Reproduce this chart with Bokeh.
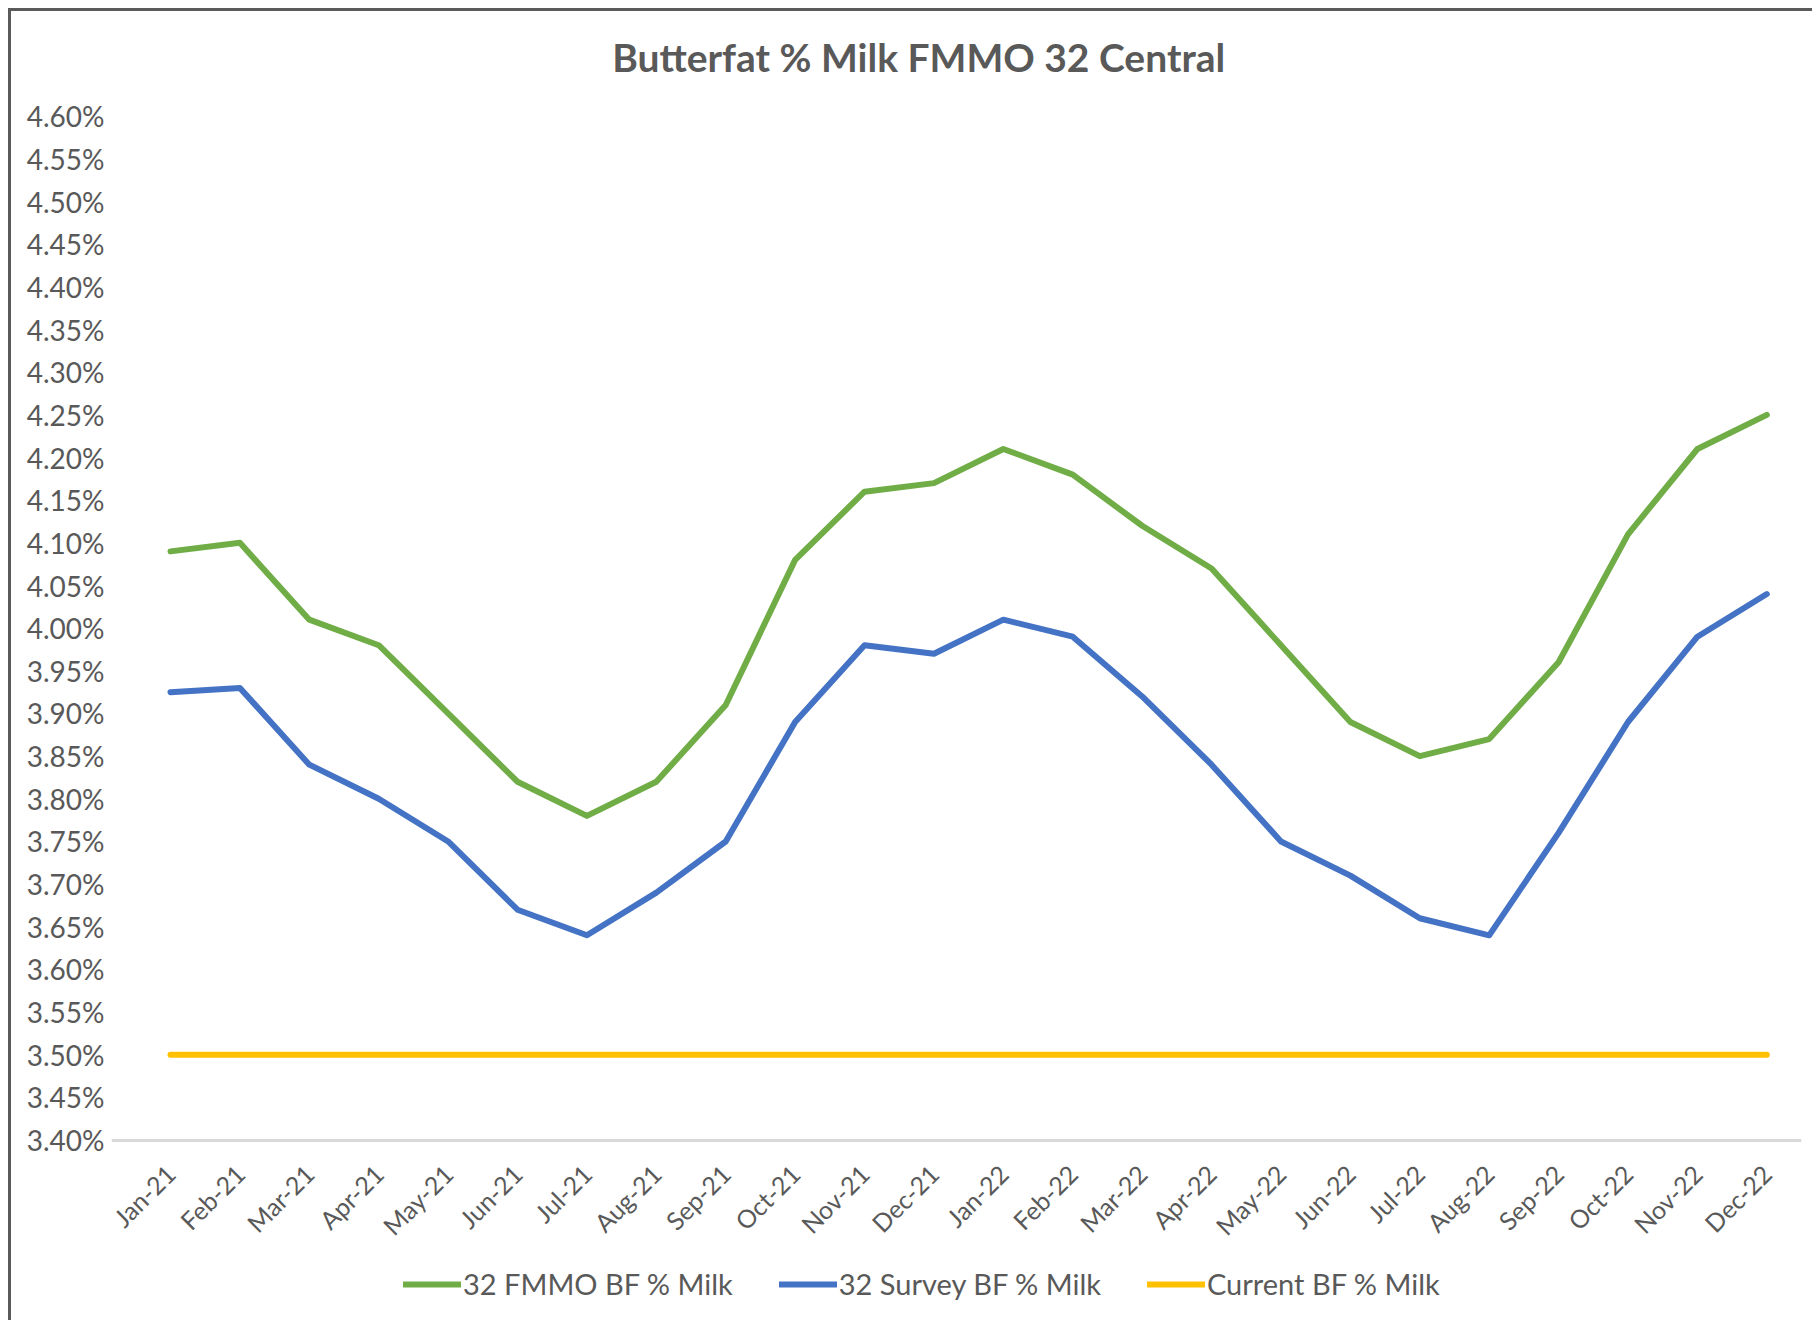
import math
from bokeh.plotting import figure
from bokeh.models import (Range1d, FixedTicker, PrintfTickFormatter,
                          Legend, LegendItem, Label)
from bokeh.embed import file_html
from bokeh.resources import INLINE

months = ["Jan-21", "Feb-21", "Mar-21", "Apr-21", "May-21", "Jun-21", "Jul-21", "Aug-21",
          "Sep-21", "Oct-21", "Nov-21", "Dec-21", "Jan-22", "Feb-22", "Mar-22", "Apr-22",
          "May-22", "Jun-22", "Jul-22", "Aug-22", "Sep-22", "Oct-22", "Nov-22", "Dec-22"]

fmmo_bf = [4.09, 4.10, 4.01, 3.98, 3.90, 3.82, 3.78, 3.82, 3.91, 4.08, 4.16, 4.17,
           4.21, 4.18, 4.12, 4.07, 3.98, 3.89, 3.85, 3.87, 3.96, 4.11, 4.21, 4.25]

survey_bf = [3.925, 3.93, 3.84, 3.80, 3.75, 3.67, 3.64, 3.69, 3.75, 3.89, 3.98, 3.97,
             4.01, 3.99, 3.92, 3.84, 3.75, 3.71, 3.66, 3.64, 3.76, 3.89, 3.99, 4.04]

current_bf = [3.50] * 24

y_ticks = [round(3.40 + 0.05 * i, 2) for i in range(25)]

title_text = "Butterfat % Milk FMMO 32 Central"
series_names = ["32 FMMO BF % Milk", "32 Survey BF % Milk", "Current BF % Milk"]
series_colors = ["#70ad47", "#4472c4", "#ffc000"]

# category slots: month i sits at the centre of slot i
x_pos = [i + 0.5 for i in range(len(months))]

FONT = "Lato"
TXT = "#595959"

# frame covers the whole canvas height; the value axis spans 3.40-4.60 inside it
p = figure(width=1804, height=1312, x_range=Range1d(-0.35, len(months)),
           y_range=Range1d(3.1850, 4.7228), output_backend="svg", toolbar_location=None,
           min_border_left=100, min_border_right=14, min_border_top=0, min_border_bottom=0)
p.styles = {"border-top": "3px solid #5a5a5a", "border-left": "3px solid #5a5a5a",
            "margin-left": "8px", "margin-top": "8px"}

p.outline_line_color = None
p.xgrid.grid_line_color = None
p.ygrid.grid_line_color = None

p.yaxis.ticker = FixedTicker(ticks=y_ticks)
p.yaxis.formatter = PrintfTickFormatter(format="%.2f%%")
p.yaxis.axis_line_color = None
p.yaxis.major_tick_line_color = None
p.yaxis.minor_tick_line_color = None
p.yaxis.major_label_text_font = FONT
p.yaxis.major_label_text_font_size = "28px"
p.yaxis.major_label_text_color = TXT
p.yaxis.major_label_standoff = 1

p.xaxis.fixed_location = 3.40
p.xaxis.ticker = FixedTicker(ticks=x_pos)
p.xaxis.major_label_overrides = {x: m for x, m in zip(x_pos, months)}
p.xaxis.axis_line_color = "#d9d9d9"
p.xaxis.axis_line_width = 3
p.xaxis.major_tick_line_color = None
p.xaxis.minor_tick_line_color = None
p.xaxis.major_label_orientation = math.pi / 4
p.xaxis.major_label_text_font = FONT
p.xaxis.major_label_text_font_size = "25px"
p.xaxis.major_label_text_color = TXT
p.xaxis.major_label_standoff = 23

r1 = p.line(x_pos, fmmo_bf, line_color=series_colors[0], line_width=6,
            line_cap="round", line_join="round")
r2 = p.line(x_pos, survey_bf, line_color=series_colors[1], line_width=6,
            line_cap="round", line_join="round")
r3 = p.line(x_pos, current_bf, line_color=series_colors[2], line_width=6,
            line_cap="round", line_join="round")

title = Label(x=11.28, y=4.669, text=title_text, text_align="center",
              text_baseline="middle", text_font=FONT, text_font_style="bold",
              text_font_size="39px", text_color=TXT)
p.add_layout(title)

legend = Legend(items=[LegendItem(label=series_names[0], renderers=[r1]),
                       LegendItem(label=series_names[1], renderers=[r2]),
                       LegendItem(label=series_names[2], renderers=[r3])],
                orientation="horizontal", location=(292, 22),
                glyph_width=58, glyph_height=20, label_standoff=2, spacing=46,
                padding=0, margin=0, border_line_color=None, background_fill_alpha=0,
                label_text_font=FONT, label_text_font_size="29px", label_text_color=TXT)
p.add_layout(legend, "center")

open("out.html", "w").write(file_html(p, INLINE))
